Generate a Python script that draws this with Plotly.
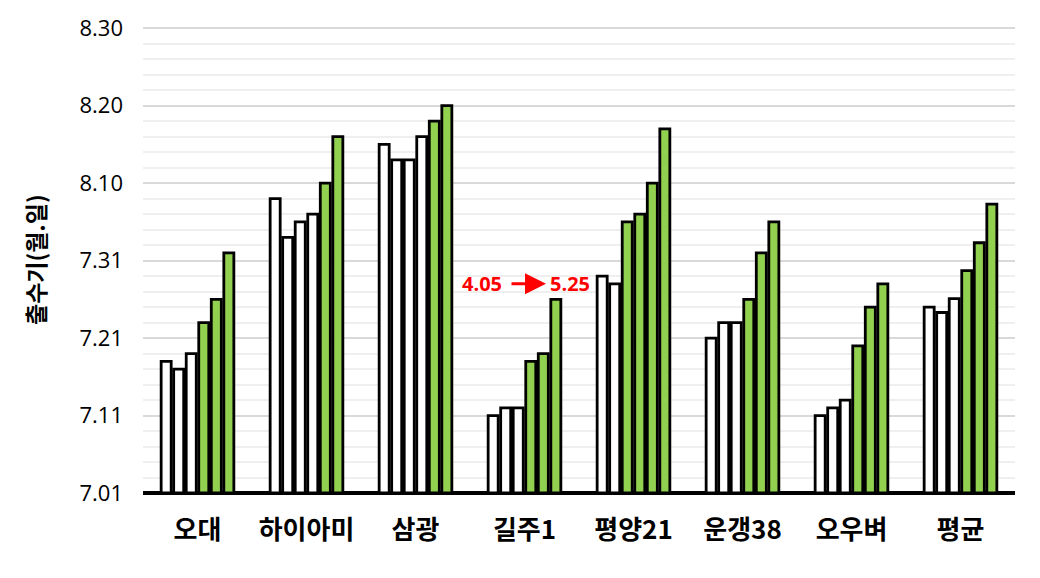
import plotly.graph_objects as go

# Heading dates, expressed as days after 7.01 (7.01 = 0, 7.31 = 30, 8.10 = 40 ...)
categories = ["오대", "하이아미", "삼광", "길주1", "평양21", "운갱38", "오우벼", "평균"]
series_1 = [17, 38, 45, 10, 28, 20, 10, 24.0]
series_2 = [16, 33, 43, 11, 27, 22, 11, 23.3]
series_3 = [18, 35, 43, 11, 35, 22, 12, 25.1]
series_4 = [22, 36, 46, 17, 36, 25, 19, 28.7]
series_5 = [25, 40, 48, 18, 40, 31, 24, 32.3]
series_6 = [31, 46, 50, 25, 47, 35, 27, 37.3]
# number of leading white (unfilled) bars in each group; the rest are green
white_count = [3, 4, 4, 3, 2, 3, 3, 3]

tick_values = [0, 10, 20, 30, 40, 50, 60]
tick_labels = ["7.01", "7.11", "7.21", "7.31", "8.10", "8.20", "8.30"]

GREEN = "#92D050"
series = [series_1, series_2, series_3, series_4, series_5, series_6]

fig = go.Figure()
for i, vals in enumerate(series):
    colors = ["white" if i < wc else GREEN for wc in white_count]
    fig.add_trace(go.Bar(
        x=categories, y=vals,
        marker=dict(color=colors, line=dict(color="black", width=2.8)),
        showlegend=False, hoverinfo="skip",
    ))

L, R, T, B = 143, 25, 27, 85
fig.update_layout(
    width=1040, height=578,
    margin=dict(l=L, r=R, t=T, b=B),
    paper_bgcolor="white", plot_bgcolor="white",
    barmode="group", bargap=0.31, bargroupgap=0.2,
    font=dict(family="Open Sans, Noto Sans CJK KR", color="black"),
)
fig.update_xaxes(
    type="category", showgrid=False, ticks="", showline=False,
    tickfont=dict(family="Noto Sans CJK KR", size=26, color="black", weight="bold"),
    ticklabelstandoff=19,
)
fig.update_yaxes(
    range=[0, 60.15], tickmode="array", tickvals=tick_values, ticktext=tick_labels,
    showgrid=True, gridcolor="#D9D9D9", gridwidth=1.5,
    zeroline=True, zerolinecolor="black", zerolinewidth=4,
    showline=False, ticks="",
    tickfont=dict(family="Open Sans", size=22, color="black"),
    ticklabelstandoff=19,
    minor=dict(tickmode="linear", tick0=0, dtick=2, showgrid=True,
               gridcolor="#EFEFEF", gridwidth=1.5),
)

# y-axis title
fig.add_annotation(
    text="출수기(월.일)", textangle=-90, xref="paper", yref="paper",
    x=0, y=0.5, xanchor="center", yanchor="middle", xshift=-108, showarrow=False,
    font=dict(family="Noto Sans CJK KR", size=23, color="black", weight="bold"),
)

# transplanting-date annotation
PW = 1040 - L - R
def px(xpix):
    return (xpix - L) / PW
fig.add_annotation(text="4.05", xref="paper", yref="y", x=px(482), y=27,
                   showarrow=False, font=dict(family="Open Sans", size=20, color="red", weight="bold"))
fig.add_annotation(text="5.25", xref="paper", yref="y", x=px(570), y=27,
                   showarrow=False, font=dict(family="Open Sans", size=20, color="red", weight="bold"))
fig.add_annotation(text="", xref="paper", yref="y", axref="pixel", ayref="pixel",
                   x=px(546), y=27, ax=-36, ay=0,
                   showarrow=True, arrowhead=2, arrowsize=1.4, arrowwidth=3, arrowcolor="red")

fig.write_html("out.html")
